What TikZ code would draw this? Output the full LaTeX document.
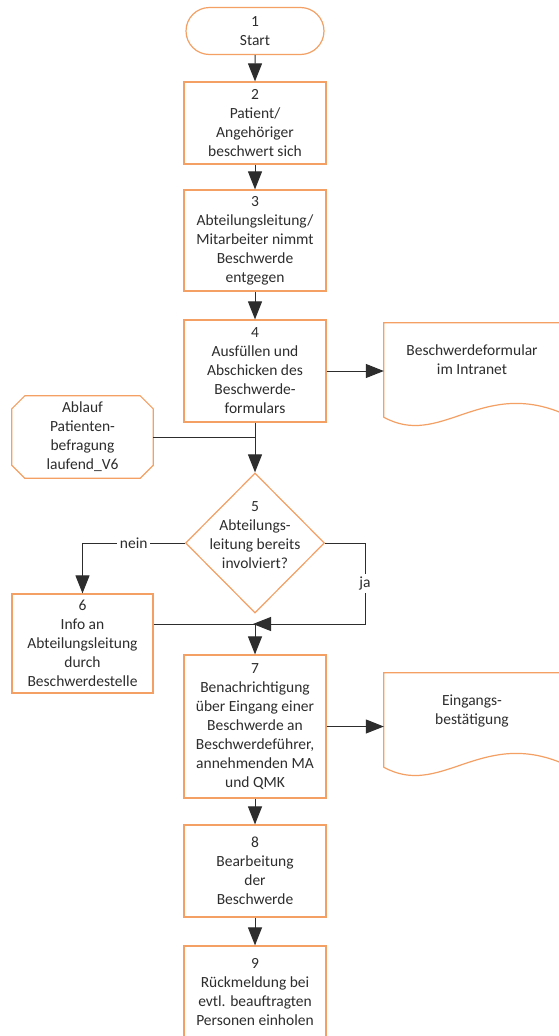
\documentclass[tikz,border=0pt]{standalone}
\usepackage{fontspec}
\setmainfont{Carlito}
\usetikzlibrary{shapes.misc,shapes.geometric,arrows.meta,calc}
\definecolor{boxorange}{RGB}{244,160,100}
\definecolor{inkgray}{RGB}{45,45,45}
\begin{document}
\begin{tikzpicture}[x=1pt,y=-1pt,
  font=\fontsize{15.5}{19}\selectfont,
  base/.style={draw=boxorange, line width=1.2pt, align=center, text=inkgray, inner sep=2pt},
  proc/.style={base, rectangle, minimum width=142pt},
  term/.style={base, rounded rectangle, minimum width=142pt, minimum height=47pt},
  outline/.style={draw=boxorange, line width=1.2pt},
  label/.style={text=inkgray, align=center, inner sep=1pt},
  wire/.style={draw=inkgray, line width=1pt},
  link/.style={wire, -{Triangle[length=18pt,width=14pt]}},
  tag/.style={fill=white, text=inkgray, inner sep=3pt}]

\useasboundingbox (0,0) rectangle (559,1036);
\fill[white] (0,0) rectangle (559,1036);

% main column
\node[term] (n1) at (255,31) {1\\Start};
\node[proc, minimum height=82pt] (n2) at (255,123) {2\\Patient/\\Angehöriger\\beschwert sich};
\node[proc, minimum height=101pt] (n3) at (255,240.5) {3\\Abteilungsleitung/\\Mitarbeiter nimmt\\Beschwerde\\entgegen};
\node[proc, minimum height=102pt] (n4) at (255,371) {4\\Ausfüllen und\\Abschicken des\\Beschwerde-\\formulars};
\node[base, diamond, minimum width=139pt, minimum height=140pt, inner sep=0pt] (d5) at (255,543) {};
\node[label] (d5t) at (255,535) {5\\Abteilungs-\\leitung bereits\\involviert?};
\node[proc, minimum width=141pt, minimum height=99pt] (n6) at (82.5,643.5) {6\\Info an\\Abteilungsleitung\\durch\\Beschwerdestelle};
\node[proc, minimum height=143pt] (n7) at (255,726.5) {7\\Benachrichtigung\\über Eingang einer\\Beschwerde an\\Beschwerdeführer,\\annehmenden MA\\und QMK};
\node[proc, minimum height=92pt] (n8) at (255,871) {8\\Bearbeitung\\der\\Beschwerde};
\node[proc, minimum height=92pt] (n9) at (255,992) {9\\Rückmeldung bei\\evtl. beauftragten\\Personen einholen};

% octagonal reference to another process
\node[label, minimum width=141pt, minimum height=82pt] (ab) at (82.5,437) {Ablauf\\Patienten-\\befragung\\laufend\_V6};
\draw[outline]
  ($(ab.north west)+(13,0)$) -- ($(ab.north east)+(-13,0)$) -- ($(ab.north east)+(0,13)$)
  -- ($(ab.south east)+(0,-13)$) -- ($(ab.south east)+(-13,0)$) -- ($(ab.south west)+(13,0)$)
  -- ($(ab.south west)+(0,-13)$) -- ($(ab.north west)+(0,13)$) -- cycle;

% document shapes
\node[minimum width=176pt, minimum height=94pt, inner sep=0pt] (docA) at (472,370) {};
\node[label] (docAt) at (472,360) {Beschwerdeformular\\im Intranet};
\node[minimum width=176pt, minimum height=94pt, inner sep=0pt] (docB) at (472,720) {};
\node[label] (docBt) at (472,711) {Eingangs-\\bestätigung};

\foreach \d in {docA,docB}{
  \draw[outline]
    (\d.north east) -- (\d.north west) -- (\d.south west)
    .. controls ($(\d.south west)+(56,31)$) and ($(\d.south west)+(96,-37)$)
    .. ($(\d.south west)+(176,-5)$) -- (\d.north east);
}

% flow connectors
\coordinate (m) at (255,624);
\coordinate (jc) at (365,624);

\draw[link] (n1) -- (n2);
\draw[link] (n2) -- (n3);
\draw[link] (n3) -- (n4);
\draw[link] (n4) -- (d5);
\draw[link] (n4.east) -- (n4.east -| docA.west);
\draw[wire] (ab.east) -- (ab.east -| n4.south);
\draw[link] (d5.west) -- node[tag] {nein} (d5.west -| n6.north) -- (n6.north);
\draw[link, shorten >=-2pt] (d5.east) -- (d5.east -| jc) -- node[tag] {ja} (jc) -- (m);
\draw[wire] (n6.east |- m) -- (m);
\draw[link] (m) -- (n7.north);
\draw[link] (n7.east) -- (n7.east -| docB.west);
\draw[link] (n7) -- (n8);
\draw[link] (n8) -- (n9);
\end{tikzpicture}
\end{document}
